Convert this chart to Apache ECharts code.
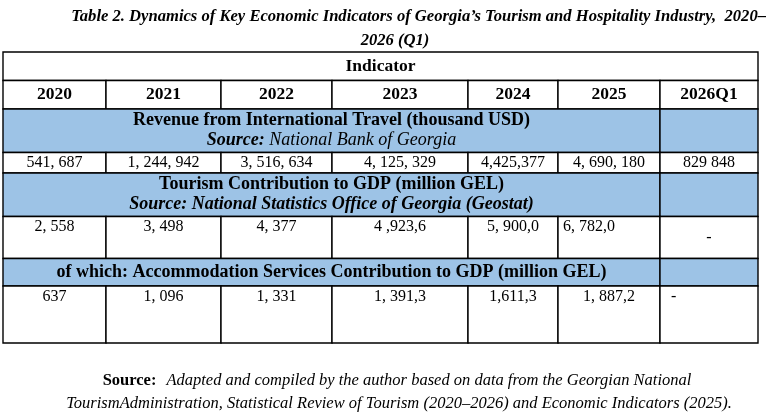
<!DOCTYPE html>
<html>
<head>
<meta charset="utf-8">
<script src="https://cdn.jsdelivr.net/npm/echarts@6/dist/echarts.min.js"></script>
<style>
  html, body { margin: 0; padding: 0; background: #fff; }
  #chart { width: 772px; height: 417px; }
</style>
</head>
<body>
<div id="chart"></div>
<script>
// values as printed in the table
const years = ['2020', '2021', '2022', '2023', '2024', '2025', '2026Q1'];
const revenue = ['541, 687', '1, 244, 942', '3, 516, 634', '4, 125, 329', '4,425,377', '4, 690, 180', '829 848'];
const tourismGdp = ['2, 558', '3, 498', '4, 377', '4 ,923,6', '5, 900,0', '6, 782,0', '-'];
const accommodationGdp = ['637', '1, 096', '1, 331', '1, 391,3', '1,611,3', '1, 887,2', '-'];
const sectionTitles = [
  'Revenue from International Travel (thousand USD)',
  'Tourism Contribution to GDP (million GEL)',
  'of which: Accommodation Services Contribution to GDP (million GEL)'
];
const sectionSources = ['National Bank of Georgia', 'National Statistics Office of Georgia (Geostat)'];
const headerLabel = 'Indicator';
const titleLines = [
  'Table 2. Dynamics of Key Economic Indicators of Georgia\u2019s Tourism and Hospitality Industry,  2020\u2013',
  '2026 (Q1)'
];
const noteLines = [
  'Adapted and compiled by the author based on data from the Georgian National',
  'TourismAdministration, Statistical Review of Tourism (2020\u20132026) and Economic Indicators (2025).'
];

// table layout, in grid units (1 unit = 1px)
const colEdges = [0, 103, 218, 329, 465, 555, 657, 755];
const rowEdges = [0, 28.5, 57, 100.5, 121, 164.5, 206.5, 234, 291];
const FONT = '"Liberation Serif", "DejaVu Serif", serif';
const BLUE = '#9dc3e6';
const SIZE = 16;      // plain values
const HEAD = 17.5;    // bold headings
const SECT = 18;      // section headings

const cells = [];
function cell(c0, c1, r, opts) {
  cells.push(Object.assign({
    x0: colEdges[c0], x1: colEdges[c1], y0: rowEdges[r], y1: rowEdges[r + 1]
  }, opts));
}

const richHead = {
  h: { fontFamily: FONT, fontSize: SECT, fontWeight: 'bold', lineHeight: 20, fill: '#000' },
  sb: { fontFamily: FONT, fontSize: SECT, fontWeight: 'bold', fontStyle: 'italic', lineHeight: 20, fill: '#000' },
  si: { fontFamily: FONT, fontSize: SECT, fontStyle: 'italic', lineHeight: 20, fill: '#000' }
};

cell(0, 7, 0, { text: headerLabel, bold: true, size: HEAD });
years.forEach((y, i) => cell(i, i + 1, 1, { text: y, bold: true, size: HEAD }));

cell(0, 6, 2, { fill: BLUE, rich: richHead,
  text: '{h|' + sectionTitles[0] + '}\n{sb|Source:}{si| ' + sectionSources[0] + '}' });
cell(6, 7, 2, { fill: BLUE });
revenue.forEach((v, i) => cell(i, i + 1, 3, { text: v }));

cell(0, 6, 4, { fill: BLUE, rich: richHead,
  text: '{h|' + sectionTitles[1] + '}\n{sb|Source: ' + sectionSources[1] + '}' });
cell(6, 7, 4, { fill: BLUE });
const tourismAlign = ['center', 'center', 'center', 'center', 'center', 'left', 'center'];
tourismGdp.forEach((v, i) => cell(i, i + 1, 5, {
  text: v, align: tourismAlign[i], pad: 5, dy: i === 6 ? null : 10.5
}));

cell(0, 6, 6, { fill: BLUE, text: sectionTitles[2], bold: true, size: SECT });
cell(6, 7, 6, { fill: BLUE });
const accAlign = ['center', 'center', 'center', 'center', 'center', 'center', 'left'];
accommodationGdp.forEach((v, i) => cell(i, i + 1, 7, {
  text: v, align: accAlign[i], pad: 11, dy: 10.5
}));

function renderCell(params, api) {
  const c = cells[api.value(4)];
  const p0 = api.coord([api.value(0), api.value(1)]);
  const p1 = api.coord([api.value(2), api.value(3)]);
  const w = p1[0] - p0[0];
  const h = p1[1] - p0[1];
  const children = [{
    type: 'rect',
    shape: { x: p0[0], y: p0[1], width: w, height: h },
    style: { fill: c.fill || '#fff', stroke: '#000', lineWidth: 1.4 }
  }];
  if (c.text) {
    const align = c.align || 'center';
    children.push({
      type: 'text',
      style: {
        text: c.text,
        x: align === 'left' ? p0[0] + c.pad : p0[0] + w / 2,
        y: c.dy != null ? p0[1] + c.dy : p0[1] + h / 2,
        align: align,
        verticalAlign: 'middle',
        fontFamily: FONT,
        fontSize: c.size || SIZE,
        fontWeight: c.bold ? 'bold' : 'normal',
        fill: '#000',
        rich: c.rich
      }
    });
  }
  return { type: 'group', children: children };
}

const chart = echarts.init(document.getElementById('chart'));
chart.setOption({
  animation: false,
  title: [
    {
      text: titleLines[0], right: 1, top: 3,
      textStyle: { fontFamily: FONT, fontSize: 16.6, fontWeight: 'bold', fontStyle: 'italic', color: '#000' }
    },
    {
      text: titleLines[1], left: 390, top: 27, textAlign: 'center',
      textStyle: { fontFamily: FONT, fontSize: 16.6, fontWeight: 'bold', fontStyle: 'italic', color: '#000' }
    },
    {
      text: '{b|Source:}  {i|' + noteLines[0] + '}', left: 392, top: 367, textAlign: 'center',
      textStyle: {
        fontWeight: 'normal',
        rich: {
          b: { fontFamily: FONT, fontSize: 16.5, fontWeight: 'bold', color: '#000' },
          i: { fontFamily: FONT, fontSize: 16.5, fontStyle: 'italic', fontWeight: 'normal', color: '#000' }
        }
      }
    },
    {
      text: noteLines[1], left: 394, top: 390, textAlign: 'center',
      textStyle: { fontFamily: FONT, fontSize: 16.5, fontStyle: 'italic', fontWeight: 'normal', color: '#000' }
    }
  ],
  grid: { left: 3, top: 52, width: 755, height: 291 },
  xAxis: { type: 'value', min: 0, max: 755, show: false },
  yAxis: { type: 'value', min: 0, max: 291, inverse: true, show: false },
  series: [{
    type: 'custom',
    renderItem: renderCell,
    encode: { x: [0, 2], y: [1, 3] },
    data: cells.map((c, i) => [c.x0, c.y0, c.x1, c.y1, i])
  }]
});
</script>
</body>
</html>
